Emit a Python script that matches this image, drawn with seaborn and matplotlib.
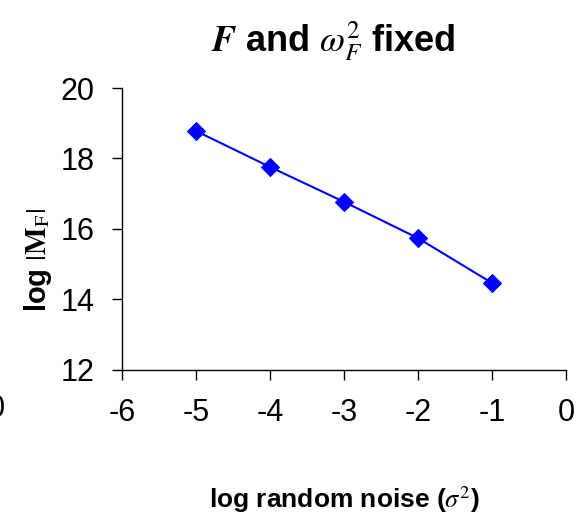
import numpy as np
import pandas as pd
import matplotlib
matplotlib.use('Agg')
import matplotlib.pyplot as plt
import seaborn as sns

# data
log_noise = [-5, -4, -3, -2, -1]
log_mf = [18.78, 17.76, 16.77, 15.74, 14.47]
x_ticks = [-6, -5, -4, -3, -2, -1, 0]
y_ticks = [12, 14, 16, 18, 20]

sns.set_style('white')
plt.rcParams['font.family'] = ['Liberation Sans', 'DejaVu Sans']
plt.rcParams['mathtext.fontset'] = 'stix'
plt.rcParams['text.color'] = 'black'
plt.rcParams['axes.labelcolor'] = 'black'
plt.rcParams['xtick.color'] = 'black'
plt.rcParams['ytick.color'] = 'black'

df = pd.DataFrame({'x': log_noise, 'y': log_mf})

fig = plt.figure(figsize=(5.84, 5.27), dpi=100)
ax = fig.add_axes([0.209, 0.298, 0.760, 0.535])

sns.lineplot(data=df, x='x', y='y', ax=ax, color='#0000ff', marker='D',
             markersize=9.5, markeredgecolor='#0000ff', linewidth=1.5)

ax.set_xlim(-6, 0)
ax.set_ylim(12, 20)
ax.set_xticks(x_ticks)
ax.set_yticks(y_ticks)
ax.set_xticklabels([str(t) for t in x_ticks])
ax.set_yticklabels([str(t) for t in y_ticks])

sns.despine(ax=ax)
for side in ['left', 'bottom']:
    ax.spines[side].set_color('black')
    ax.spines[side].set_linewidth(1.0)

ax.tick_params(axis='x', direction='out', length=7, width=1, pad=13,
               labelsize=22, bottom=True)
ax.tick_params(axis='y', direction='out', length=7, width=1, pad=13,
               labelsize=22, left=True)

ax.set_xlabel(r'log random noise ($\sigma^2$)', fontsize=19, fontweight='bold',
              va='center')
ax.xaxis.set_label_coords(0.50, -0.46)
ax.set_ylabel(r'log $|\mathbf{M}_\mathrm{F}|$', fontsize=21, fontweight='bold',
              va='center')
ax.yaxis.set_label_coords(-0.19, 0.39)

fig.text(0.57, 0.922, r'$\mathbfit{F}$ and $\omega_F^2$ fixed', fontsize=26,
         fontweight='bold', ha='center', va='center')

# fragment of a neighbouring chart's tick label at the left edge
fig.text(0.008, 0.224, '0', fontsize=22, ha='right', va='center')

fig.savefig('out.png', dpi=100)
